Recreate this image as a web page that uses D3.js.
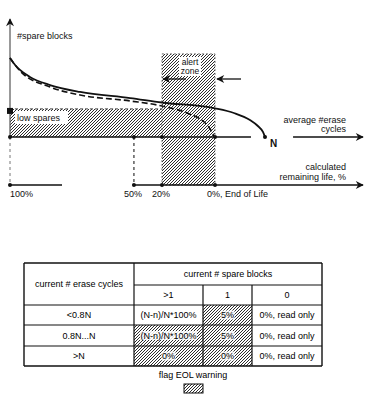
<!DOCTYPE html>
<html><head><meta charset="utf-8">
<script src="https://cdn.jsdelivr.net/npm/d3@7"></script>
<style>
html,body{margin:0;padding:0;background:#fff;}
svg{display:block;font-family:"Liberation Sans",Arial,sans-serif;}
</style></head>
<body>
<svg id="c" width="370" height="403"></svg>
<script>
// ---- data ----
// x: average erase cycles as fraction of N, y: spare blocks (% of axis height)
const spareSolid = [[0,67.5],[0.02,61.5],[0.039,57.3],[0.078,51.3],[0.157,44.4],[0.275,38.5],[0.471,33.3],[0.596,29.5],[0.804,24.5],[0.878,20.5],[0.941,14.5],[0.972,9.4],[0.992,4.3],[1,0]];
const spareDashed = [[0,67.5],[0.039,56.5],[0.157,42.7],[0.275,35.9],[0.471,30.8],[0.596,26.5],[0.706,19.5],[0.745,15.4],[0.773,10.3],[0.792,4.3],[0.800,1.0]];
const lifeMarks = [0, 0.486, 0.596, 0.804];
const lifeLabels = ["100%", "50%", "20%", "0%, End of Life"];
const nCycles = 1.0;
const lowSparesLevel = 24;
const alertZone = [0.596, 0.804];
const alertTop = 71;

const headerRowTitle = "current # erase cycles";
const headerColTitle = "current # spare blocks";
const colLabels = [">1", "1", "0"];
const rowLabels = ["<0.8N", "0.8N...N", ">N"];
const cellValues = [
  ["(N-n)/N*100%", "5%", "0%, read only"],
  ["(N-n)/N*100%", "5%", "0%, read only"],
  ["0%", "0%", "0%, read only"]
];
const cellWarn = [[0,1,0],[1,1,0],[1,1,0]];

// ---- drawing ----
const svg = d3.select("#c");
const ink = "#111";
const defs = svg.append("defs");
const pat = defs.append("pattern").attr("id","hatch").attr("patternUnits","userSpaceOnUse")
  .attr("width",3).attr("height",3);
pat.append("path").attr("d","M-1,1 l2,-2 M0,3 l3,-3 M2,4 l2,-2")
  .attr("stroke","#222").attr("stroke-width",0.95);
const marker = defs.append("marker").attr("id","arr").attr("viewBox","0 0 10 10")
  .attr("refX",9).attr("refY",5).attr("markerWidth",10).attr("markerHeight",8)
  .attr("markerUnits","userSpaceOnUse").attr("orient","auto");
marker.append("path").attr("d","M0,0 L10,5 L0,10 L3,5 Z").attr("fill",ink);

const x = d3.scaleLinear().domain([0, 1]).range([10, 265]);
const y = d3.scaleLinear().domain([0, 100]).range([137, 20]);
const yLife = 185;
const y0 = y(0);

// hatched regions
svg.append("rect").attr("x", x(0)).attr("y", y(lowSparesLevel))
  .attr("width", x(alertZone[0]) - x(0)).attr("height", y0 - y(lowSparesLevel))
  .attr("fill","url(#hatch)");
svg.append("rect").attr("x", x(alertZone[0])).attr("y", y(alertTop))
  .attr("width", x(alertZone[1]) - x(alertZone[0])).attr("height", yLife - y(alertTop))
  .attr("fill","url(#hatch)").attr("stroke","#555").attr("stroke-width",0.8).attr("stroke-dasharray","2,2");
svg.append("line").attr("x1", x(0)).attr("x2", x(alertZone[0]))
  .attr("y1", y(lowSparesLevel)).attr("y2", y(lowSparesLevel))
  .attr("stroke","#444").attr("stroke-width",1).attr("stroke-dasharray","3,2");

// y axis
svg.append("line").attr("x1", x(0)).attr("x2", x(0)).attr("y1", y0).attr("y2", 19)
  .attr("stroke","#555").attr("stroke-width",1.2).attr("marker-end","url(#arr)");
svg.append("line").attr("x1", x(0)).attr("x2", x(0)).attr("y1", y0).attr("y2", yLife)
  .attr("stroke","#777").attr("stroke-width",1).attr("stroke-dasharray","3,3");
svg.append("line").attr("x1", x(lifeMarks[1])).attr("x2", x(lifeMarks[1])).attr("y1", y0).attr("y2", yLife)
  .attr("stroke","#333").attr("stroke-width",1.2).attr("stroke-dasharray","3,3");
svg.append("text").attr("x", 17).attr("y", 39).attr("font-size",9).attr("fill",ink).text("#spare blocks");

// erase cycle axis
svg.append("line").attr("x1", x(0)).attr("x2", x(0.945)).attr("y1", y0).attr("y2", y0)
  .attr("stroke",ink).attr("stroke-width",1.3);
svg.append("line").attr("x1", x(1.11)).attr("x2", 363).attr("y1", y0).attr("y2", y0)
  .attr("stroke",ink).attr("stroke-width",1.3).attr("marker-end","url(#arr)");
svg.append("text").attr("x", 346).attr("y", 123).attr("text-anchor","end").attr("font-size",9).attr("fill",ink).text("average #erase");
svg.append("text").attr("x", 346).attr("y", 132).attr("text-anchor","end").attr("font-size",9).attr("fill",ink).text("cycles");
svg.append("text").attr("x", x(nCycles) + 5).attr("y", 147).attr("font-size",10).attr("font-weight","bold").attr("fill",ink).text("N");

// remaining life axis
svg.append("line").attr("x1", x(0)).attr("x2", 62).attr("y1", yLife).attr("y2", yLife)
  .attr("stroke",ink).attr("stroke-width",1.3);
svg.append("line").attr("x1", x(lifeMarks[1])).attr("x2", 363).attr("y1", yLife).attr("y2", yLife)
  .attr("stroke",ink).attr("stroke-width",1.3).attr("marker-end","url(#arr)");
svg.append("text").attr("x", 346).attr("y", 170).attr("text-anchor","end").attr("font-size",9).attr("fill",ink).text("calculated");
svg.append("text").attr("x", 346).attr("y", 180).attr("text-anchor","end").attr("font-size",9).attr("fill",ink).text("remaining life, %");

// curves
const line = d3.line().x(d => x(d[0])).y(d => y(d[1])).curve(d3.curveMonotoneX);
svg.append("path").attr("d", line(spareDashed)).attr("fill","none").attr("stroke",ink)
  .attr("stroke-width",1.6).attr("stroke-dasharray","6,3");
svg.append("path").attr("d", line(spareSolid)).attr("fill","none").attr("stroke",ink)
  .attr("stroke-width",1.8);

// dots
lifeMarks.forEach(m => {
  svg.append("circle").attr("cx", x(m)).attr("cy", y0).attr("r", 2).attr("fill", ink);
  svg.append("circle").attr("cx", x(m)).attr("cy", yLife).attr("r", 2).attr("fill", ink);
});
svg.append("circle").attr("cx", x(nCycles)).attr("cy", y0).attr("r", 2).attr("fill", ink);
svg.append("rect").attr("x", x(0) - 3).attr("y", y(lowSparesLevel) - 1).attr("width", 6).attr("height", 6).attr("fill", ink);

// life labels
const lifeOffsets = [0, -10, -10, -8];
lifeMarks.forEach((m, i) => {
  svg.append("text").attr("x", x(m) + lifeOffsets[i]).attr("y", 197).attr("font-size",9).attr("fill",ink).text(lifeLabels[i]);
});

// low spares label
svg.append("rect").attr("x", 15).attr("y", 111).attr("width", 53).attr("height", 13).attr("fill","#fff");
svg.append("text").attr("x", 17).attr("y", 121).attr("font-size",9).attr("fill",ink).text("low spares");

// alert zone label and arrows
svg.append("rect").attr("x", 179).attr("y", 57).attr("width", 22).attr("height", 19).attr("fill","#fff");
svg.append("text").attr("x", 190).attr("y", 65).attr("text-anchor","middle").attr("font-size",8.5).attr("fill",ink).text("alert");
svg.append("text").attr("x", 190).attr("y", 74).attr("text-anchor","middle").attr("font-size",8.5).attr("fill",ink).text("zone");
svg.append("line").attr("x1", 186).attr("x2", x(alertZone[0]) + 1).attr("y1", 79).attr("y2", 79)
  .attr("stroke",ink).attr("stroke-width",1.3).attr("marker-end","url(#arr)");
svg.append("line").attr("x1", 241).attr("x2", x(alertZone[1]) + 2).attr("y1", 79).attr("y2", 79)
  .attr("stroke",ink).attr("stroke-width",1.3).attr("marker-end","url(#arr)");

// ---- table ----
const colEdges = [24, 134, 203, 252, 322];
const rowEdges = [305, 325, 346, 366];
const tTop = 263, tSub = 285;
const tg = svg.append("g");
// hatched cells
cellWarn.forEach((row, r) => row.forEach((w, c) => {
  if (w) tg.append("rect").attr("x", colEdges[c+1]).attr("y", rowEdges[r])
    .attr("width", colEdges[c+2] - colEdges[c+1]).attr("height", rowEdges[r+1] - rowEdges[r])
    .attr("fill","url(#hatch)");
}));
const L = (x1,y1,x2,y2,w) => tg.append("line").attr("x1",x1).attr("y1",y1).attr("x2",x2).attr("y2",y2)
  .attr("stroke",ink).attr("stroke-width",w||1.2);
L(colEdges[0], tTop, colEdges[4], tTop, 1.4);
L(colEdges[1], tSub, colEdges[4], tSub);
rowEdges.forEach((ry, i) => L(colEdges[0], ry, colEdges[4], ry, i === rowEdges.length-1 ? 1.4 : 1.2));
L(colEdges[0], tTop, colEdges[0], rowEdges[3], 1.4);
L(colEdges[4], tTop, colEdges[4], rowEdges[3], 1.4);
L(colEdges[1], tTop, colEdges[1], rowEdges[3]);
L(colEdges[2], tSub, colEdges[2], rowEdges[3]);
L(colEdges[3], tSub, colEdges[3], rowEdges[3]);

const T = (tx, ty, s, bg) => {
  const g = tg.append("g");
  const t = g.append("text").attr("x", tx).attr("y", ty).attr("text-anchor","middle")
    .attr("font-size",9).attr("fill","#000").text(s);
  if (bg) {
    const w = t.node().getComputedTextLength();
    g.insert("rect", "text").attr("x", tx - w/2 - 0.5).attr("y", ty - 7.5)
      .attr("width", w + 1).attr("height", 9).attr("fill", "#fff").attr("opacity", 0.85);
  }
};
T((colEdges[0]+colEdges[1])/2, (tTop+rowEdges[0])/2 + 3, headerRowTitle);
T((colEdges[1]+colEdges[4])/2, (tTop+tSub)/2 + 3, headerColTitle);
colLabels.forEach((s, c) => T((colEdges[c+1]+colEdges[c+2])/2, (tSub+rowEdges[0])/2 + 3, s));
rowLabels.forEach((s, r) => {
  const cy = (rowEdges[r]+rowEdges[r+1])/2 + 3;
  T((colEdges[0]+colEdges[1])/2, cy, s);
  cellValues[r].forEach((v, c) => T((colEdges[c+1]+colEdges[c+2])/2, cy, v, cellWarn[r][c]));
});
// legend
T((colEdges[0]+colEdges[4])/2 + 20, 378, "flag EOL warning");
svg.append("rect").attr("x", 184).attr("y", 384).attr("width", 19).attr("height", 9)
  .attr("fill","url(#hatch)").attr("stroke",ink).attr("stroke-width",1);
</script>
</body></html>
